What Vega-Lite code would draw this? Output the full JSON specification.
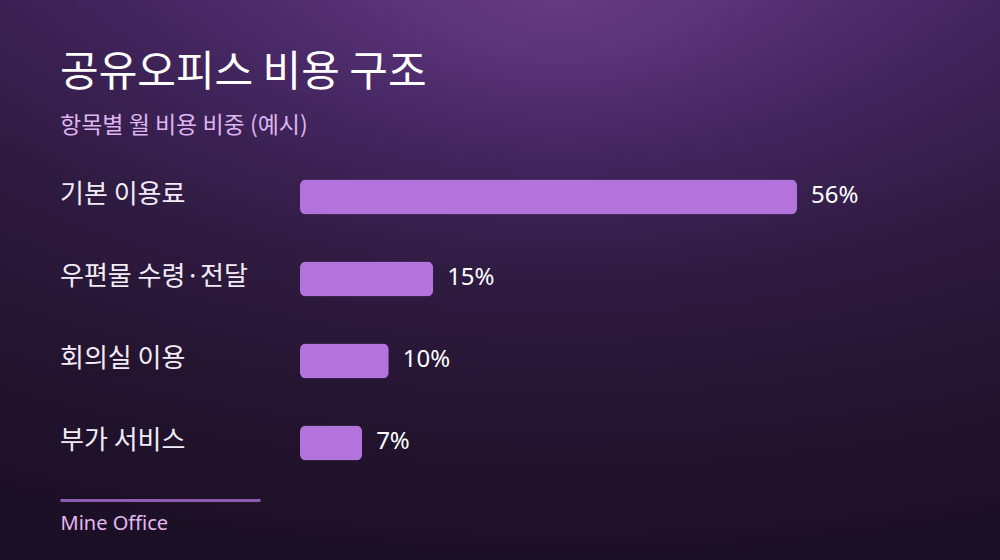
{
  "$schema": "https://vega.github.io/schema/vega-lite/v6.json",
  "width": 1000,
  "height": 560,
  "autosize": {"type": "none"},
  "padding": 0,
  "background": "#1c1026",
  "view": {
    "stroke": null,
    "fill": {
      "gradient": "radial",
      "x1": 0.56, "y1": 0.22, "r1": 0,
      "x2": 0.56, "y2": -1.795, "r2": 2.615,
      "stops": [
        {"offset": 0, "color": "#653a81"},
        {"offset": 0.1, "color": "#5a3378"},
        {"offset": 0.2, "color": "#4b2a68"},
        {"offset": 0.3, "color": "#3e2358"},
        {"offset": 0.47, "color": "#2f1b41"},
        {"offset": 0.7, "color": "#24142f"},
        {"offset": 0.93, "color": "#1c1026"},
        {"offset": 1, "color": "#1b0f25"}
      ]
    }
  },
  "title": {
    "text": "공유오피스 비용 구조",
    "subtitle": "항목별 월 비용 비중 (예시)",
    "anchor": "start",
    "frame": "group",
    "dx": 60,
    "offset": -139,
    "font": "Noto Sans CJK KR",
    "fontSize": 42,
    "fontWeight": "normal",
    "color": "#ffffff",
    "subtitleFont": "Noto Sans CJK KR",
    "subtitleFontSize": 23,
    "subtitleColor": "#dfb5f0",
    "subtitlePadding": 20
  },
  "data": {
    "values": [
      {"item": "기본 이용료", "pct": 56, "label": "56%"},
      {"item": "우편물 수령·전달", "pct": 15, "label": "15%"},
      {"item": "회의실 이용", "pct": 10, "label": "10%"},
      {"item": "부가 서비스", "pct": 7, "label": "7%"}
    ]
  },
  "resolve": {"scale": {"x": "independent"}, "axis": {"x": "independent"}},
  "layer": [
    {
      "mark": {"type": "bar", "height": 35, "cornerRadius": 6, "color": "#b373dc"},
      "encoding": {
        "x": {"field": "pct", "type": "quantitative", "scale": {"domain": [0, 56], "range": [300, 797]}, "axis": null},
        "y": {"field": "item", "type": "nominal", "sort": null, "scale": {"range": [156, 484], "paddingInner": 0, "paddingOuter": 0}, "axis": null}
      }
    },
    {
      "mark": {"type": "text", "align": "left", "baseline": "middle", "dx": 14, "dy": -1, "font": "Noto Sans", "fontSize": 24, "color": "#ffffff"},
      "encoding": {
        "x": {"field": "pct", "type": "quantitative", "scale": {"domain": [0, 56], "range": [300, 797]}, "axis": null},
        "y": {"field": "item", "type": "nominal", "sort": null, "scale": {"range": [156, 484], "paddingInner": 0, "paddingOuter": 0}, "axis": null},
        "text": {"field": "label"}
      }
    },
    {
      "mark": {"type": "text", "align": "left", "baseline": "middle", "dy": -2, "font": "Noto Sans CJK KR", "fontSize": 26, "color": "#f3ecf7"},
      "encoding": {
        "x": {
          "datum": 0,
          "type": "quantitative",
          "scale": {"domain": [0, 1], "range": [60, 260]},
          "axis": {
            "orient": "bottom",
            "offset": -60,
            "domain": true,
            "domainColor": "#8c5cb0",
            "domainWidth": 3,
            "domainCap": "butt",
            "ticks": false,
            "labels": false,
            "grid": false,
            "title": "Mine Office",
            "titleAnchor": "start",
            "titleAlign": "left",
            "titleBaseline": "top",
            "titlePadding": 13,
            "titleFont": "Noto Sans",
            "titleFontSize": 20,
            "titleFontWeight": "normal",
            "titleColor": "#e4b8f0"
          }
        },
        "y": {"field": "item", "type": "nominal", "sort": null, "scale": {"range": [156, 484], "paddingInner": 0, "paddingOuter": 0}, "axis": null},
        "text": {"field": "item"}
      }
    }
  ]
}
